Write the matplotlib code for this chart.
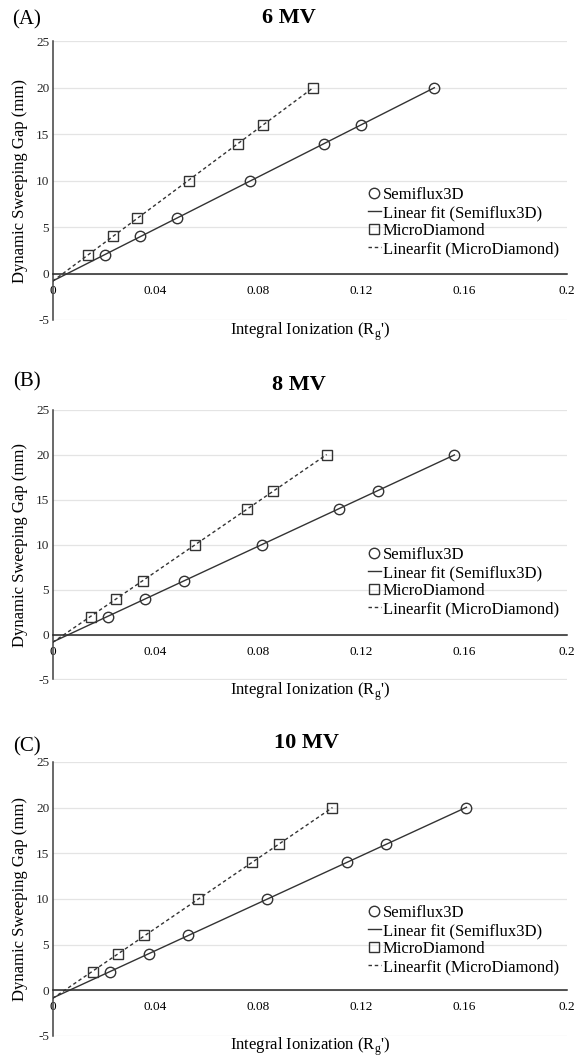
import numpy as np
import matplotlib
matplotlib.use("Agg")
import matplotlib.pyplot as plt
from matplotlib.ticker import FixedLocator, FuncFormatter

plt.rcParams['font.family'] = ['Liberation Serif', 'DejaVu Serif']
plt.rcParams['mathtext.fontset'] = 'custom'
plt.rcParams['mathtext.rm'] = 'Liberation Serif'
plt.rcParams['axes.unicode_minus'] = False

# ---------------- data ----------------
gap_mm = [2, 4, 6, 10, 14, 16, 20]

semiflux_6mv = [0.0204, 0.0340, 0.0483, 0.0769, 0.1055, 0.1199, 0.1485]
micro_6mv = [0.0139, 0.0234, 0.0327, 0.0529, 0.0720, 0.0819, 0.1012]

semiflux_8mv = [0.0215, 0.0360, 0.0510, 0.0813, 0.1113, 0.1264, 0.1563]
micro_8mv = [0.0148, 0.0247, 0.0350, 0.0555, 0.0757, 0.0858, 0.1066]

semiflux_10mv = [0.0224, 0.0373, 0.0527, 0.0832, 0.1143, 0.1298, 0.1609]
micro_10mv = [0.0155, 0.0254, 0.0356, 0.0566, 0.0776, 0.0880, 0.1088]

panel_letters = ["(A)", "(B)", "(C)"]
panel_titles = ["6 MV", "8 MV", "10 MV"]
x_ticks = [0, 0.04, 0.08, 0.12, 0.16, 0.2]
y_ticks = [-5, 0, 5, 10, 15, 20, 25]
legend_labels = ["Semiflux3D", "Linear fit (Semiflux3D)", "MicroDiamond",
                 "Linearfit (MicroDiamond)"]
xlabel = r"Integral Ionization (R$_{\rm g}$')"
ylabel = "Dynamic Sweeping Gap (mm)"

# ---------------- layout ----------------
W, H = 577, 1059
fig = plt.figure(figsize=(W / 100, H / 100), dpi=100)

# pixel boxes: left, right, top, bottom
boxes = [(52.7, 566.7, 41.5, 320.0),
         (52.7, 566.7, 410.0, 679.5),
         (52.7, 567.0, 762.0, 1035.8)]
letter_pos = [(27, 20), (27, 382), (27, 747)]
title_pos = [(289, 18), (299, 385), (306, 743)]
legend_top = [187, 547, 905]
xlabel_y = [331.5, 691.5, 1046.5]

datasets = [(semiflux_6mv, micro_6mv), (semiflux_8mv, micro_8mv),
            (semiflux_10mv, micro_10mv)]

line_col = '#333333'
fmt = FuncFormatter(lambda v, p: ('%g' % v))

for i, ((sx, mx), (l, r, t, b)) in enumerate(zip(datasets, boxes)):
    ax = fig.add_axes([l / W, 1 - b / H, (r - l) / W, (b - t) / H])
    ax.set_xlim(0, 0.2)
    ax.set_ylim(-5, 25)

    # fits
    ps = np.polyfit(sx, gap_mm, 1)
    pm = np.polyfit(mx, gap_mm, 1)
    xs = np.array([0, max(sx)])
    xm = np.array([0, max(mx)])

    h1, = ax.plot(sx, gap_mm, linestyle='none', marker='o', ms=7.5,
                  mfc='none', mec=line_col, mew=1.0, zorder=4)
    h2, = ax.plot(xs, np.polyval(ps, xs), color=line_col, lw=1.0, zorder=3)
    h3, = ax.plot(mx, gap_mm, linestyle='none', marker='s', ms=7.5,
                  mfc='none', mec=line_col, mew=1.0, zorder=4)
    h4, = ax.plot(xm, np.polyval(pm, xm), color=line_col, lw=1.0,
                  linestyle=(0, (2.5, 2)), zorder=3)

    ax.yaxis.set_major_locator(FixedLocator(y_ticks))
    ax.xaxis.set_major_locator(FixedLocator(x_ticks))
    ax.xaxis.set_major_formatter(fmt)
    ax.yaxis.set_major_formatter(fmt)
    ax.grid(axis='y', color='#e4e4e4', lw=0.9, zorder=0)
    ax.set_axisbelow(True)

    for s in ['top', 'right']:
        ax.spines[s].set_visible(False)
    ax.spines['bottom'].set_position(('data', 0))
    ax.spines['bottom'].set_color('#262626')
    ax.spines['bottom'].set_linewidth(1.1)
    ax.spines['left'].set_color('#404040')
    ax.spines['left'].set_linewidth(1.1)
    ax.tick_params(axis='x', length=0, pad=8, labelsize=9.5, colors='#262626')
    ax.tick_params(axis='y', length=0, pad=2.5, labelsize=9.5, colors='#262626')
    for lab in ax.get_xticklabels():
        lab.set_color('black')

    # axis labels
    ax.set_ylabel(ylabel, fontsize=12)
    ax.yaxis.set_label_coords(-0.048, 0.5)
    fig.text(((l + r) / 2) / W, 1 - xlabel_y[i] / H, xlabel, fontsize=12,
             ha='center', va='center')

    # legend
    lx = (368 - l) / (r - l)
    ly = (b - legend_top[i]) / (b - t)
    ax.legend([h1, h2, h3, h4], legend_labels, loc='upper left',
              bbox_to_anchor=(lx, ly), frameon=False, fontsize=12,
              handlelength=0.75, handletextpad=0.15, labelspacing=0.12,
              borderpad=0, borderaxespad=0, markerscale=1.0)

    # titles & letters
    fig.text(letter_pos[i][0] / W, 1 - letter_pos[i][1] / H, panel_letters[i],
             fontsize=15, ha='center', va='center')
    fig.text(title_pos[i][0] / W, 1 - title_pos[i][1] / H, panel_titles[i],
             fontsize=16, fontweight='bold', ha='center', va='center')

fig.savefig("out.png", dpi=100, facecolor='white')
